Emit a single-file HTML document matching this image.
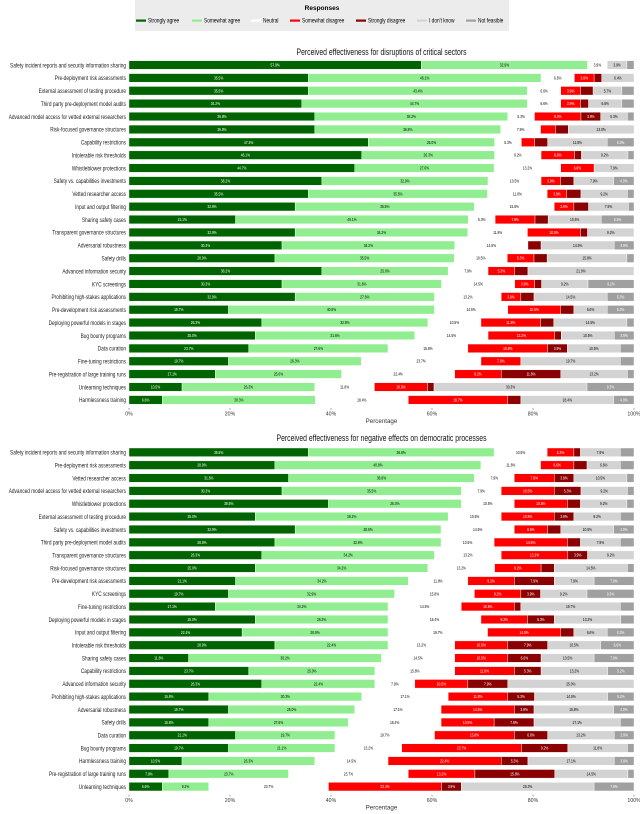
<!DOCTYPE html>
<html><head><meta charset="utf-8">
<style>
html,body{margin:0;padding:0;background:#fff;}
svg{display:block;font-family:"Liberation Sans",sans-serif;}
</style></head>
<body>
<svg id="chart" width="640" height="814" viewBox="0 0 640 814" xmlns="http://www.w3.org/2000/svg">
  <g>
    <rect x="135" y="0" width="374" height="31" fill="#ececec"/>
    <text x="322" y="10" font-size="6.5" font-weight="bold" text-anchor="middle">Responses</text>
  </g>
  <g id="legend-entries"></g>
  <g id="top"></g>
  <g id="bottom"></g>
</svg>
<script>
const responseLabels = ["Strongly agree","Somewhat agree","Neutral","Somewhat disagree","Strongly disagree","I don't know","Not feasible"];
const responseColors = ["#006400","#90ee90","#ffffff","#ff0000","#8b0000","#d3d3d3","#a0a0a0"];
const xTicks = [0,20,40,60,80,100];

const topCategories = ["Safety incident reports and security information sharing","Pre-deployment risk assessments","External assessment of testing procedure","Third party pre-deployment model audits","Advanced model access for vetted external researchers","Risk-focused governance structures","Capability restrictions","Intolerable risk thresholds","Whistleblower protections","Safety vs. capabilities investments","Vetted researcher access","Input and output filtering","Sharing safety cases","Transparent governance structures","Adversarial robustness","Safety drills","Advanced information security","KYC screenings","Prohibiting high-stakes applications","Pre-development risk assessments","Deploying powerful models in stages","Bug bounty programs","Data curation","Fine-tuning restrictions","Pre-registration of large training runs","Unlearning techniques","Harmlessness training"];
const topStronglyAgree = [57.9,35.5,35.5,34.2,36.8,36.8,47.4,46.1,44.7,38.2,35.5,32.9,21.1,32.9,30.3,28.9,38.2,30.3,32.9,19.7,26.3,25.0,23.7,19.7,17.1,10.5,6.6];
const topSomewhatAgree = [32.9,46.1,43.4,44.7,38.2,36.8,25.0,26.3,27.6,32.9,35.5,35.5,46.1,34.2,34.2,35.5,25.0,31.6,27.6,40.8,32.9,31.6,27.6,26.3,25.0,26.3,30.3];
const topNeutral = [3.9,6.6,6.6,6.6,5.3,7.9,5.3,9.2,13.2,10.5,11.8,15.8,5.3,11.8,14.5,10.5,7.9,14.5,13.2,14.5,10.5,14.5,15.8,23.7,22.4,11.8,18.4];
const topSomewhatDisagree = [0,3.9,3.9,3.9,9.2,3.0,2.6,6.6,6.6,3.9,3.9,3.9,7.9,10.5,0,5.3,5.3,3.9,3.9,10.5,11.8,13.2,15.8,7.9,9.2,10.5,19.7];
const topStronglyDisagree = [0,1.5,2.5,1.6,3.9,2.5,2.6,1.4,0,2.6,2.8,2.9,2.6,1.4,2.6,2.6,2.6,1.4,2.6,2.6,2.6,1.3,3.9,0,11.8,1.3,2.6];
const topDontKnow = [3.9,6.4,5.7,6.6,5.3,13.0,11.8,9.2,7.9,7.9,9.2,7.9,10.5,9.2,14.5,15.8,21.0,9.2,14.5,6.6,14.5,10.5,10.5,19.7,13.2,30.3,18.4];
const topNotFeasible = [1.4,0,2.4,2.4,1.3,0,5.3,1.2,0,4.0,1.3,1.1,6.5,0,3.9,1.4,0,9.1,5.3,5.3,1.4,3.9,2.7,2.7,1.3,9.3,4.0];

const botCategories = ["Safety incident reports and security information sharing","Pre-deployment risk assessments","Vetted researcher access","Advanced model access for vetted external researchers","Whistleblower protections","External assessment of testing procedure","Safety vs. capabilities investments","Third party pre-deployment model audits","Transparent governance structures","Risk-focused governance structures","Pre-development risk assessments","KYC screenings","Fine-tuning restrictions","Deploying powerful models in stages","Input and output filtering","Intolerable risk thresholds","Sharing safety cases","Capability restrictions","Advanced information security","Prohibiting high-stakes applications","Adversarial robustness","Safety drills","Data curation","Bug bounty programs","Harmlessness training","Pre-registration of large training runs","Unlearning techniques"];
const botStronglyAgree = [35.5,28.9,31.6,30.3,39.5,25.0,32.9,28.9,26.3,25.0,21.1,19.7,17.1,25.0,22.4,28.9,11.8,23.7,26.3,15.8,19.7,15.8,21.1,19.7,10.5,7.9,6.6];
const botSomewhatAgree = [36.8,40.8,36.8,35.5,26.3,38.2,28.9,32.9,34.2,34.2,34.2,32.9,34.2,26.3,28.9,22.4,38.2,25.0,22.4,30.3,25.0,27.6,19.7,21.1,26.3,23.7,9.2];
const botNeutral = [10.5,11.8,7.9,7.9,10.5,10.5,14.5,10.5,13.2,13.2,11.8,15.8,14.5,18.4,19.7,13.2,14.5,15.8,7.9,17.1,17.1,18.4,19.7,13.2,14.5,23.7,23.7];
const botSomewhatDisagree = [5.3,6.6,7.9,10.5,10.5,10.5,6.6,14.5,13.2,9.2,9.2,9.2,10.5,9.2,14.5,10.5,10.5,11.8,10.5,11.8,14.5,10.5,15.8,23.7,22.4,13.2,22.4];
const botStronglyDisagree = [1.3,2.6,3.9,5.3,2.6,3.9,2.6,2.6,3.9,2.6,7.9,3.9,1.3,5.3,2.6,7.9,6.6,5.3,7.9,5.3,3.9,7.9,6.6,9.2,5.3,15.8,3.9];
const botDontKnow = [7.9,6.6,10.5,9.2,9.2,9.2,10.5,7.9,9.2,14.5,7.9,9.2,19.7,13.2,6.6,10.5,10.5,13.2,25.0,14.5,15.8,17.1,13.2,11.8,17.1,14.5,26.3];
const botNotFeasible = [2.7,2.7,1.4,1.3,1.4,2.7,4.0,2.7,0,1.3,7.9,9.3,2.7,2.6,5.3,6.6,7.9,5.2,0,5.2,4.0,2.7,3.9,1.3,3.9,1.2,7.9];

const NS = "http://www.w3.org/2000/svg";
const X0 = 129, X1 = 634;
function xScale(v){ return X0 + (X1 - X0) * v / 100; }
function mk(tag, attrs, parent){
  const e = document.createElementNS(NS, tag);
  for (const k in attrs) e.setAttribute(k, attrs[k]);
  parent.appendChild(e); return e;
}

// legend entries
const legendG = document.getElementById("legend-entries");
const legendX = [136,192,251,290,356,417,466];
responseLabels.forEach((lab, i) => {
  const g = mk("g", {}, legendG);
  
  
  mk("rect", {x: legendX[i], y: 19.5, width: 10, height: 2.2, fill: responseColors[i]}, g);
  const t = mk("text", {x: 0, y: 0, "font-size": 6, transform: "translate(" + (legendX[i] + 12) + ",22.5) scale(0.8,1)"}, g);
  t.textContent = lab;
});

function drawChart(gid, title, titleY, titleLen, rowY0, step, categories, series){
  const g = document.getElementById(gid);
  const tt = mk("text", {x: 381.5, y: titleY, "font-size": 9, "text-anchor": "middle", textLength: titleLen, lengthAdjust: "spacingAndGlyphs", fill: "#111"}, g);
  
  
  tt.textContent = title;
  const barH = 8.6;
  categories.forEach((cat, r) => {
    const cy = rowY0 + r * step;
    const lab = mk("text", {x: 0, y: 0, "font-size": 6.6, "text-anchor": "end", fill: "#222", transform: "translate(126," + (cy + 2.3) + ") scale(0.72,1)"}, g);
    
    
    lab.textContent = cat;
    let acc = 0;
    series.forEach((arr, s) => {
      const v = arr[r];
      const xa = xScale(acc), xb = xScale(acc + v);
      acc += v;
      if (v <= 0) return;
      const rect = mk("rect", {x: xa, y: cy - barH / 2, width: xb - xa, height: barH, fill: responseColors[s], stroke: "#fff", "stroke-width": 0.4}, g);
      
      
      if (v >= 3.5) {
        const light = (s === 1 || s === 2 || s === 5);
        const vt = mk("text", {x: 0, y: 0, "font-size": 4.4, "text-anchor": "middle", fill: light ? "#000" : "#fff", transform: "translate(" + ((xa + xb) / 2) + "," + (cy + 1.5) + ") scale(0.75,1)"}, g);
        
        
        vt.textContent = v.toFixed(1) + "%";
      }
    });
  });
  const axisY = rowY0 + (categories.length - 1) * step + 8;
  xTicks.forEach(t => {
    const x = xScale(t);
    mk("line", {x1: x, x2: x, y1: axisY, y2: axisY + 2, stroke: "#555", "stroke-width": 0.5}, g);
    const tl = mk("text", {x: x, y: axisY + 7.5, "font-size": 5.2, "text-anchor": "middle", fill: "#333"}, g);
    
    
    tl.textContent = t + "%";
  });
  const at = mk("text", {x: 381.5, y: axisY + 15, "font-size": 6.2, "text-anchor": "middle", fill: "#333"}, g);
  
  
  at.textContent = "Percentage";
}

drawChart("top", "Perceived effectiveness for disruptions of critical sectors", 55, 170, 65, 12.88, topCategories,
  [topStronglyAgree, topSomewhatAgree, topNeutral, topSomewhatDisagree, topStronglyDisagree, topDontKnow, topNotFeasible]);
drawChart("bottom", "Perceived effectiveness for negative effects on democratic processes", 441, 210, 452.3, 12.86, botCategories,
  [botStronglyAgree, botSomewhatAgree, botNeutral, botSomewhatDisagree, botStronglyDisagree, botDontKnow, botNotFeasible]);
</script>
</body></html>
